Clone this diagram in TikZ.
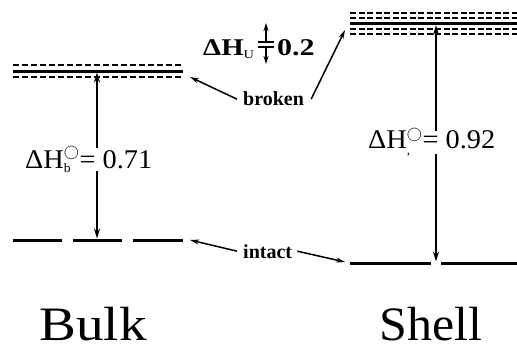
\documentclass[tikz,border=0pt]{standalone}
\usepackage{fontspec}
\setmainfont{Liberation Serif}
\usepackage{amsmath}
\usetikzlibrary{arrows.meta}
\newcommand{\subsup}[1]{$^{\scriptscriptstyle\bigcirc}_{\text{\fontsize{13}{14}\selectfont #1}}$}
\begin{document}
\begin{tikzpicture}[x=1pt,y=-1pt,
  level/.style={line width=3pt},
  sublevel/.style={line width=1.8pt, dash pattern=on 6pt off 3pt},
  shsub/.style={line width=1.6pt, dash pattern=on 6pt off 2.5pt},
  vline/.style={line width=1.8pt},
  tipup/.style={-{Stealth[length=10pt,width=6pt]}},
  pointer/.style={line width=1.5pt,-{Stealth[length=9pt,width=5pt]}},
  lbl/.style={font=\bfseries\fontsize{20}{24}\selectfont, inner sep=0pt},
  eqlbl/.style={font=\fontsize{27}{32}\selectfont, inner sep=0pt},
  ulbl/.style={font=\bfseries\fontsize{24}{28}\selectfont, inner sep=0pt},
  titlelbl/.style={font=\fontsize{48}{56}\selectfont, inner sep=0pt}]
\useasboundingbox (0,0) rectangle (517,351);
% ---------- Bulk levels ----------
\draw[sublevel] (13,65) -- (183,65);
\draw[level] (13,71) -- (183,71);
\draw[sublevel] (13,77) -- (183,77);
\coordinate (bTop) at (97,72.5);
\coordinate (bBot) at (97,238.5);
\coordinate (bEndTop) at (190,77);
\coordinate (bEndBot) at (190,240);
\draw[level] (13,240) -- (62,240);
\draw[level] (73,240) -- (122,240);
\draw[level] (133,240) -- (183,240);
% ---------- Shell levels ----------
\draw[shsub] (350,13) -- (517,13);
\draw[shsub] (350,18) -- (517,18);
\draw[level] (350,23.5) -- (517,23.5);
\draw[shsub] (350,29) -- (517,29);
\draw[shsub] (350,34) -- (517,34);
\coordinate (sTop) at (436,25);
\coordinate (sBot) at (436,261.5);
\coordinate (sEndTop) at (345,30);
\coordinate (sEndBot) at (345,262);
\draw[level] (350,263) -- (431,263);
\draw[level] (441,263) -- (517,263);
% ---------- labels ----------
\node[eqlbl, anchor=base west] (hb) at (25,168)
  {\scalebox{1.05}[1]{ΔH\subsup{b}= 0.71}};
\node[eqlbl, anchor=base west] (hs) at (368,148)
  {\scalebox{1.05}[1]{ΔH\subsup{,}= 0.92}};
\draw[vline,tipup] ([yshift=-2pt]hb.north -| bTop) -- (bTop);
\draw[vline,tipup] ([yshift=2pt]hb.south -| bBot) -- (bBot);
\draw[vline,tipup] ([yshift=-2pt]hs.north -| sTop) -- (sTop);
\draw[vline,tipup] ([yshift=2pt]hs.south -| sBot) -- (sBot);
% Delta H_U
\node[ulbl, anchor=base west] (hu) at (203,55)
  {\scalebox{1.2}[1]{ΔH\textsubscript{\normalfont\fontsize{12}{13}\selectfont U}}};
\node[ulbl, anchor=base west] (hunum) at (277,55) {\scalebox{1.25}[1]{0.2}};
\coordinate (uMidA) at (266,42);
\coordinate (uMidB) at (266,47);
\coordinate (uUp) at (266,23);
\coordinate (uDown) at (266,64);
\draw[line width=1.5pt] (258,42) -- (274,42);
\draw[line width=1.5pt] (258,47) -- (274,47);
\draw[line width=1.5pt,-{Stealth[length=8pt,width=5pt]}] (uMidA) -- (uUp);
\draw[line width=1.5pt,-{Stealth[length=8pt,width=5pt]}] (uMidB) -- (uDown);
% broken / intact
\node[lbl, anchor=base west] (br) at (243,105) {broken};
\node[lbl, anchor=base west] (in) at (243,258) {intact};
\draw[pointer] ([xshift=-6pt,yshift=-1pt]br.west) -- (bEndTop);
\draw[pointer] ([xshift=7pt,yshift=-1pt]br.east) -- (sEndTop);
\draw[pointer] ([xshift=-6pt]in.west) -- (bEndBot);
\draw[pointer] ([xshift=5pt]in.east) -- (sEndBot);
% titles
\node[titlelbl, anchor=base] (bulk) at (93,340) {\scalebox{1.15}[1]{Bulk}};
\node[titlelbl, anchor=base] (shell) at (431,340) {\scalebox{1.04}[1]{Shell}};
\end{tikzpicture}
\end{document}
